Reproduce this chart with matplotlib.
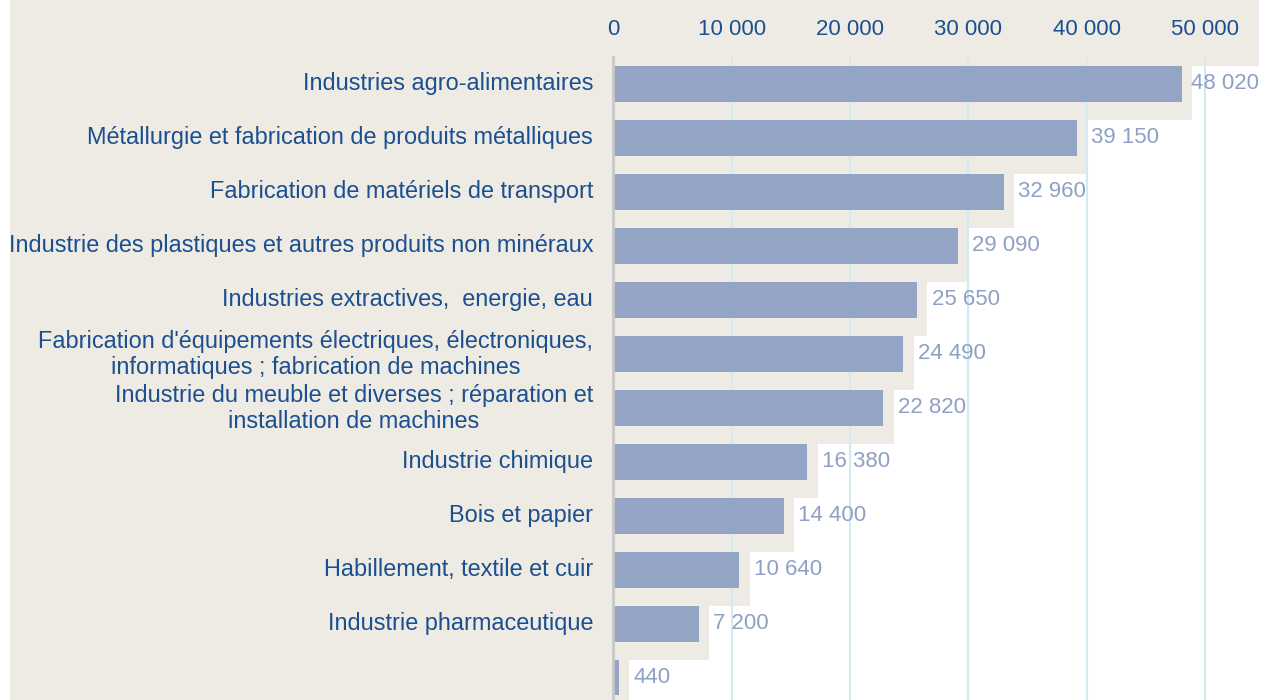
import matplotlib.pyplot as plt
from matplotlib.patches import Rectangle
from matplotlib.transforms import ScaledTranslation

plt.rcParams['font.family'] = ['Liberation Sans', 'DejaVu Sans']

# données
categories = [
    "Industries agro-alimentaires",
    "Métallurgie et fabrication de produits métalliques",
    "Fabrication de matériels de transport",
    "Industrie des plastiques et autres produits non minéraux",
    "Industries extractives,  energie, eau",
    "Fabrication d'équipements électriques, électroniques,\ninformatiques ; fabrication de machines",
    "Industrie du meuble et diverses ; réparation et\ninstallation de machines",
    "Industrie chimique",
    "Bois et papier",
    "Habillement, textile et cuir",
    "Industrie pharmaceutique",
    "",
]
values = [48020, 39150, 32960, 29090, 25650, 24490, 22820, 16380, 14400, 10640, 7200, 440]
xticks = [0, 10000, 20000, 30000, 40000, 50000]

BEIGE = '#eeebe5'
BAR = '#93a4c4'
DARK = '#1b4f8f'
VAL = '#8fa0c4'
GRID = '#d2ebf1'

W, H = 1262, 700
fig = plt.figure(figsize=(W / 100, H / 100), dpi=100, facecolor='white')

# fond beige : zone des libellés + bandeau du haut
fig.patches.append(Rectangle((10 / W, 0), (613 - 10) / W, 1, transform=fig.transFigure,
                             facecolor=BEIGE, edgecolor='none', zorder=-5))
fig.patches.append(Rectangle((10 / W, 1 - 66 / H), (1259 - 10) / W, 66 / H, transform=fig.transFigure,
                             facecolor=BEIGE, edgecolor='none', zorder=-5))

ax_left = 613.3 / W
px_per_unit = 118.4 / 10000
xmax = 54000
ax = fig.add_axes([ax_left, 0, xmax * px_per_unit / W, 643 / H])
ax.set_facecolor('none')

n = len(values)
ypos = list(range(n))
bar_h = 2 / 3
shadow = 10.5 / px_per_unit

# ombre beige derrière chaque barre
for y, v in zip(ypos, values):
    ax.add_patch(Rectangle((0, y - bar_h / 2), v + shadow, 1, facecolor=BEIGE,
                           edgecolor='none', zorder=0.2))

ax.barh(ypos, values, height=bar_h, color=BAR, zorder=2)

for y, v in zip(ypos, values):
    off = 6.5 if v == max(values) else 10.5
    ax.annotate(f"{v:,}".replace(",", " "), (v, y), xytext=(off, 0), textcoords='offset points',
                ha='left', va='center', fontsize=16, color=VAL, zorder=3)

ax.set_xlim(0, xmax)
ax.set_ylim(11.417, -0.5)

ax.xaxis.tick_top()
ax.set_xticks(xticks)
ax.set_xticklabels([f"{t:,}".replace(",", " ") for t in xticks])
ax.tick_params(axis='x', length=0, pad=12.5, labelsize=16, labelcolor=DARK)

ax.set_yticks(ypos)
ax.set_yticklabels(categories)
ax.tick_params(axis='y', length=0, pad=14.5, labelsize=16.9, labelcolor=DARK)
shift_up = ScaledTranslation(0, 3 / 100, fig.dpi_scale_trans)
for lbl in ax.get_yticklabels():
    lbl.set_multialignment('center')
    lbl.set_linespacing(1.15)
    lbl.set_transform(lbl.get_transform() + shift_up)

ax.set_axisbelow(True)
ax.grid(axis='x', color=GRID, linewidth=1.5)
ax.grid(axis='y', visible=False)

for side in ['top', 'right', 'bottom']:
    ax.spines[side].set_visible(False)
ax.spines['left'].set_color('#c8c8c8')
ax.spines['left'].set_linewidth(2)
ax.spines['left'].set_zorder(4)

fig.savefig('out.png', dpi=100)
